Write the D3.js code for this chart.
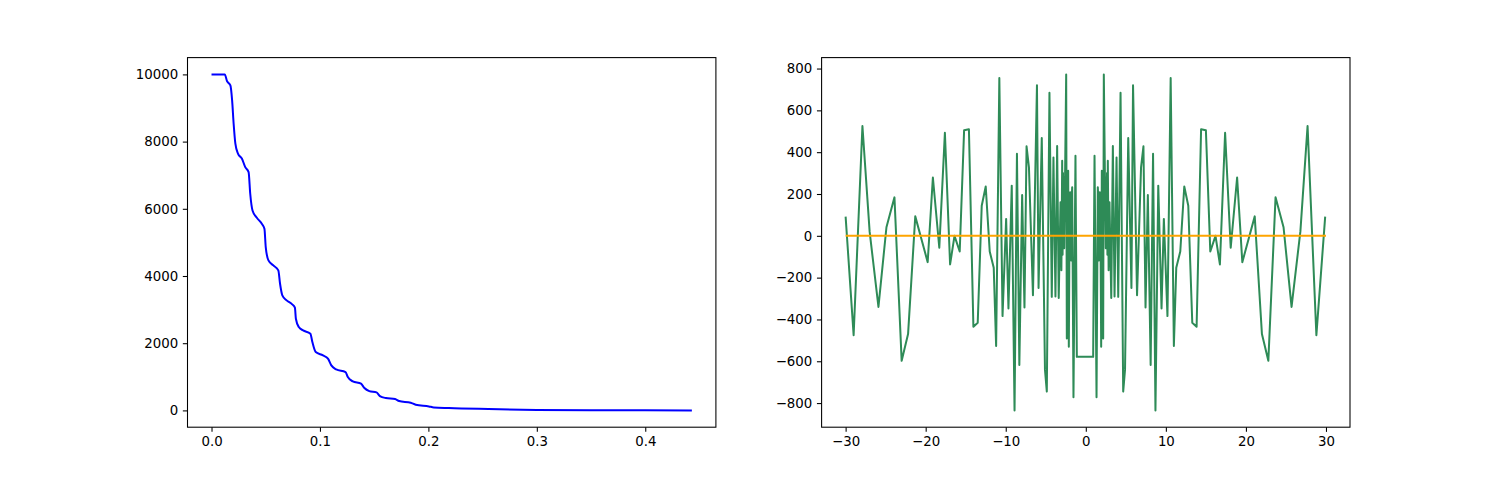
<!DOCTYPE html>
<html>
<head>
<meta charset="utf-8">
<script src="https://cdn.jsdelivr.net/npm/d3@7"></script>
<style>
  body { margin: 0; background: #fff; }
  text { font-family: "DejaVu Sans", sans-serif; }
</style>
</head>
<body>
<svg id="fig" width="1500" height="480"></svg>
<script>
// left panel: decaying curve
var decayX = [0, 0.0122, 0.0143, 0.0174, 0.019, 0.0204, 0.022, 0.0244, 0.0281, 0.0311, 0.0342, 0.0357, 0.0378, 0.0418,
  0.0464, 0.0488, 0.05, 0.0525, 0.057, 0.0616, 0.0632, 0.0653, 0.0693, 0.0744, 0.0769, 0.0778, 0.0805, 0.0845,
  0.0912, 0.093, 0.0961, 0.1028, 0.1074, 0.1105, 0.115, 0.1236, 0.1257, 0.1303, 0.1379, 0.141, 0.1455, 0.1522,
  0.1553, 0.1608, 0.1693, 0.173, 0.1837, 0.1883, 0.2005, 0.205, 0.2188, 0.2554, 0.3, 0.35, 0.443];
var decayY = [10000, 10000, 9800, 9673, 9226, 8532, 7937, 7640, 7490, 7242, 7093, 6448, 5952, 5734,
  5556, 5407, 4861, 4464, 4315, 4167, 3770, 3423, 3274, 3155, 3056, 2728, 2480, 2381,
  2282, 2034, 1736, 1637, 1538, 1339, 1220, 1141, 992, 863, 794, 665, 575, 536,
  427, 367, 337, 278, 228, 169, 119, 89, 69, 40, 15, 5, 0];
var leftXTicks = [0, 0.1, 0.2, 0.3, 0.4];
var leftYTicks = [0, 2000, 4000, 6000, 8000, 10000];

// right panel: green signal and flat orange line
var waveX = [-30, -29, -27.9, -27, -25.9, -24.9, -23.9, -23, -22.2, -21.3, -20.5, -19.75, -19.1, -18.3, -17.6,
  -16.95, -16.4, -15.75, -15.2, -14.6, -14.04, -13.5, -13, -12.5, -12, -11.5, -11.2, -10.8, -10.4, -9.95,
  -9.66, -9.25, -8.9, -8.6, -8.3, -7.95, -7.66, -7.4, -7.1, -6.6, -6.1, -5.9, -5.5, -5.1, -4.87,
  -4.54, -4.25, -4.04, -3.79, -3.58, -3.38, -3.16, -3.05, -2.95, -2.9, -2.85, -2.79, -2.74, -2.7, -2.6,
  -2.45, -2.37, -2.2, -2.12, -2.02, -1.95, -1.89, -1.83, -1.76, -1.7, -1.54, -1.29, -1.12,
  0.92, 1.09, 1.34, 1.5, 1.56, 1.63, 1.69, 1.75, 1.82, 1.92, 2.0, 2.17, 2.25, 2.4, 2.5, 2.54,
  2.59, 2.65, 2.7, 2.75, 2.85, 2.96, 3.18, 3.38, 3.59, 3.84, 4.05, 4.34, 4.67, 4.9, 5.3,
  5.7, 5.9, 6.4, 6.9, 7.2, 7.46, 7.75, 8.1, 8.4, 8.7, 9.05, 9.46, 9.75, 10.2, 10.6,
  11.0, 11.3, 11.8, 12.3, 12.8, 13.3, 13.84, 14.4, 15.0, 15.55, 16.2, 16.75, 17.4, 18.1, 18.9,
  19.55, 20.3, 21.1, 22.0, 22.8, 23.7, 24.7, 25.7, 26.8, 27.7, 28.8, 29.9];
var waveY = [92, -475, 525, 20, -340, 41, 184, -598, -470, 93, -20, -126, 279, -57, 493,
  -137, 0, -75, 505, 510, -435, -416, 144, 236, -75, -153, -527, 755, -384, 81,
  -348, 240, -835, 393, -618, 195, -343, 428, 327, -284, 720, -250, 468, -640, -745,
  684, -292, 374, -290, 430, -297, 160, -165, 359, -90, 300, 57, 280, -60, 250,
  772, -491, 311, -531, 120, 208, -40, -118, 180, 232, -772, 383, -579,
  -579, 383, -772, 232, 180, -118, -40, 208, 120, -531, 311, -491, 772, 250, -60,
  280, 57, 300, -90, 359, -165, 160, -297, 430, -290, 374, -292, 684, -745, -640, 468,
  -250, 720, -284, 327, 428, -343, 195, -618, 393, -835, 240, -348, 81, -384, 755,
  -527, -153, -75, 236, 144, -416, -435, 510, 505, -75, 0, -137, 493, -57, 279,
  -126, -20, 93, -470, -598, 184, 41, -340, 20, 525, -475, 92];
var flatX = [-30, 30];
var flatY = [0, 0];
var rightXTicks = [-30, -20, -10, 0, 10, 20, 30];
var rightYTicks = [-800, -600, -400, -200, 0, 200, 400, 600, 800];

var svg = d3.select("#fig");
var tickLen = 4.67, tickPad = 4.67;

// pad a [min, max] range by 5% on both sides like matplotlib does
function padded(lo, hi) {
  var m = (hi - lo) * 0.05;
  return [lo - m, hi + m];
}

function drawPanel(box, xDom, yDom, xTicks, yTicks, xFmt, yFmt) {
  var g = svg.append("g").attr("transform", "translate(" + box.x + "," + box.y + ")");
  var x = d3.scaleLinear().domain(xDom).range([0, box.w]);
  var y = d3.scaleLinear().domain(yDom).range([box.h, 0]);

  var xAxis = g.append("g").attr("transform", "translate(0," + box.h + ")")
    .call(d3.axisBottom(x).tickValues(xTicks).tickFormat(xFmt).tickSize(tickLen).tickPadding(tickPad));
  var yAxis = g.append("g")
    .call(d3.axisLeft(y).tickValues(yTicks).tickFormat(yFmt).tickSize(tickLen).tickPadding(tickPad));
  [xAxis, yAxis].forEach(function (a) {
    a.select(".domain").remove();
    a.selectAll(".tick line").attr("stroke", "#000").attr("stroke-width", 1.07);
    a.selectAll(".tick text").attr("fill", "#000").style("font-size", "13.33px")
      .style("font-family", "'DejaVu Sans', sans-serif");
  });
  g.append("rect").attr("class", "frame").attr("width", box.w).attr("height", box.h)
    .attr("fill", "none").attr("stroke", "#000").attr("stroke-width", 1.07);
  return { g: g, x: x, y: y };
}

function addLine(p, xs, ys, color, curve) {
  var pts = xs.map(function (v, i) { return [v, ys[i]]; });
  var line = d3.line().x(function (d) { return p.x(d[0]); }).y(function (d) { return p.y(d[1]); });
  if (curve) line.curve(curve);
  p.g.insert("path", ".frame").datum(pts)
    .attr("d", line).attr("fill", "none").attr("stroke", color)
    .attr("stroke-width", 2).attr("stroke-linejoin", "round").attr("stroke-linecap", "butt");
}

// axes boxes from a 15 x 4.8 inch figure, default subplot params
var leftBox = { x: 187.5, y: 57.6, w: 528.4, h: 369.6 };
var rightBox = { x: 821.6, y: 57.6, w: 528.4, h: 369.6 };

var left = drawPanel(leftBox,
  padded(d3.min(decayX), d3.max(decayX)), padded(d3.min(decayY), d3.max(decayY)),
  leftXTicks, leftYTicks, d3.format(".1f"), d3.format("d"));
addLine(left, decayX, decayY, "blue", d3.curveMonotoneX);

var allX = waveX.concat(flatX), allY = waveY.concat(flatY);
var right = drawPanel(rightBox,
  padded(d3.min(allX), d3.max(allX)), padded(d3.min(allY), d3.max(allY)),
  rightXTicks, rightYTicks, d3.format("d"), d3.format("d"));
addLine(right, waveX, waveY, "seagreen");
addLine(right, flatX, flatY, "orange");
</script>
</body>
</html>
